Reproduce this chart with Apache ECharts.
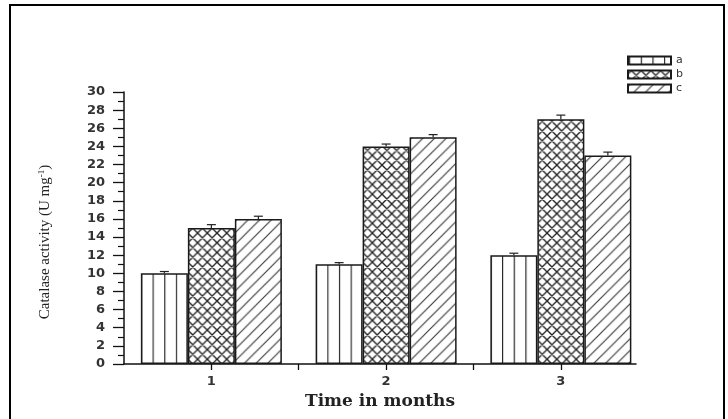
<!DOCTYPE html>
<html>
<head>
<meta charset="utf-8">
<script src="https://cdn.jsdelivr.net/npm/echarts@6/dist/echarts.min.js"></script>
<style>html,body{margin:0;padding:0;background:#fff;}#c{width:728px;height:419px;}</style>
</head>
<body>
<div id="c"></div>
<script>
// ---- data ----
const months = [1, 2, 3];
const monthLabels = ['1', '2', '3'];
const seriesNames = ['a', 'b', 'c'];
const valuesA = [10, 11, 12];
const valuesB = [15, 24, 27];
const valuesC = [16, 25, 23];
const errorsA = [0.2, 0.18, 0.22];
const errorsB = [0.37, 0.26, 0.45];
const errorsC = [0.3, 0.3, 0.37];
const yMin = 0, yMax = 30, yStep = 2;
const xMin = 0.5, xMax = 3.43;
const xTickValues = [1, 1.5, 2, 2.5, 3];

const BAR_W = 47;
const LINE = '#1a1a1a';

function makeTile(w, h, draw) {
  const c = document.createElement('canvas');
  c.width = w; c.height = h;
  const ctx = c.getContext('2d');
  ctx.fillStyle = '#fff';
  ctx.fillRect(0, 0, w, h);
  ctx.strokeStyle = '#222';
  ctx.lineWidth = 1.3;
  draw(ctx, w, h);
  return c;
}
const tileA = makeTile(12, 4, (ctx, w, h) => {
  ctx.fillStyle = '#2a2a2a'; ctx.fillRect(0, 0, 1.2, h);
});
const tileB = makeTile(10, 10, (ctx, w, h) => {
  ctx.lineWidth = 1.4;
  ctx.beginPath();
  for (let k = -1; k <= 1; k++) {
    ctx.moveTo(-2 + k * w, -2); ctx.lineTo(w + 2 + k * w, h + 2);
    ctx.moveTo(-2 + k * w, h + 2); ctx.lineTo(w + 2 + k * w, -2);
  }
  ctx.stroke();
});
const tileC = makeTile(12, 12, (ctx, w, h) => {
  ctx.strokeStyle = '#333';
  ctx.lineWidth = 1.1;
  ctx.beginPath();
  for (let k = -1; k <= 1; k++) {
    ctx.moveTo(-2 + k * w, h + 2); ctx.lineTo(w + 2 + k * w, -2);
  }
  ctx.stroke();
});

const chart = echarts.init(document.getElementById('c'), null, { renderer: 'canvas' });

function errSeries(name, vals, errs, offset) {
  return {
    type: 'custom',
    name: name + '_err',
    z: 10,
    data: months.map((m, i) => [m, vals[i], errs[i]]),
    encode: { x: 0, y: 1 },
    renderItem: function (params, api) {
      const x = api.value(0), v = api.value(1), e = api.value(2);
      const p0 = api.coord([x, v]);
      const p1 = api.coord([x, v + e]);
      const cx = p0[0] + offset;
      const st = { stroke: '#222', lineWidth: 1.2 };
      return {
        type: 'group',
        children: [
          { type: 'line', shape: { x1: cx, y1: p0[1], x2: cx, y2: p1[1] }, style: st },
          { type: 'line', shape: { x1: cx - 4.5, y1: p1[1], x2: cx + 4.5, y2: p1[1] }, style: st }
        ]
      };
    }
  };
}

function barSeries(name, vals, fill) {
  return {
    type: 'bar',
    name: name,
    barWidth: BAR_W,
    barGap: '0%',
    data: months.map((m, i) => [m, vals[i]]),
    itemStyle: { color: fill, borderColor: LINE, borderWidth: 1.5 },
    emphasis: { disabled: true }
  };
}

function buildOption(fA, fB, fC) {
  return {
    animation: false,
    backgroundColor: '#fff',
    graphic: [{
      type: 'rect', silent: true,
      shape: { x: 10, y: 5, width: 714, height: 430 },
      style: { fill: 'none', stroke: '#000', lineWidth: 2 }
    }],
    grid: { left: 124, right: 92, top: 92, bottom: 55, containLabel: false },
    legend: {
      data: seriesNames,
      orient: 'vertical',
      left: 622, top: 50,
      padding: 5,
      icon: 'rect',
      itemWidth: 43, itemHeight: 8, itemGap: 3,
      textStyle: { fontFamily: 'DejaVu Sans', fontSize: 11, color: '#333', lineHeight: 10 },
      selectedMode: false
    },
    xAxis: {
      type: 'value',
      min: xMin, max: xMax,
      name: 'Time in months',
      nameLocation: 'middle',
      nameGap: 29,
      nameTextStyle: { fontFamily: 'DejaVu Serif', fontWeight: 'bold', fontSize: 17, color: '#222' },
      axisLine: { show: true, onZero: false, lineStyle: { color: '#111', width: 1.5 } },
      axisTick: { show: true, length: 6, customValues: xTickValues, lineStyle: { color: '#111', width: 1.3 } },
      axisLabel: {
        customValues: months,
        margin: 11,
        fontFamily: 'DejaVu Sans', fontWeight: 'bold', fontSize: 13, color: '#333',
        formatter: function (v) { const i = months.indexOf(v); return i >= 0 ? monthLabels[i] : ''; }
      },
      splitLine: { show: false }
    },
    yAxis: {
      type: 'value',
      min: yMin, max: yMax, interval: yStep,
      name: 'Catalase activity (U mg{sup|-1})',
      nameLocation: 'middle',
      nameRotate: 90,
      nameGap: 70,
      nameTextStyle: {
        fontFamily: 'Liberation Serif', fontSize: 15, color: '#222',
        padding: [0, 28, 0, 0],
        rich: { sup: { fontFamily: 'Liberation Serif', fontSize: 9, color: '#222', verticalAlign: 'top', padding: [0, 0, 8, 0] } }
      },
      axisLine: { show: true, onZero: false, lineStyle: { color: '#111', width: 1.5 } },
      axisTick: { show: true, length: 11, lineStyle: { color: '#111', width: 1.3 } },
      minorTick: { show: true, splitNumber: 2, length: 6, lineStyle: { color: '#111', width: 1.2 } },
      axisLabel: { margin: 19, fontFamily: 'DejaVu Sans', fontWeight: 'bold', fontSize: 13, color: '#333' },
      splitLine: { show: false },
      minorSplitLine: { show: false }
    },
    series: [
      barSeries('a', valuesA, fA),
      barSeries('b', valuesB, fB),
      barSeries('c', valuesC, fC),
      errSeries('a', valuesA, errorsA, -BAR_W),
      errSeries('b', valuesB, errorsB, 0),
      errSeries('c', valuesC, errorsC, BAR_W)
    ]
  };
}

chart.setOption(buildOption('#fff', '#fff', '#fff'));
// align hatch patterns to the bars using the axis scale
const px1 = chart.convertToPixel({ xAxisIndex: 0 }, months[0]);
const px2 = chart.convertToPixel({ xAxisIndex: 0 }, months[1]);
const groupStep = px2 - px1;
const leftA = px1 - 1.5 * BAR_W;
const periodA = groupStep / 15;
const periodB = groupStep / 18;
const periodC = groupStep / 15;
const patA = { image: tileA, repeat: 'repeat', x: leftA, y: 0, scaleX: periodA / 12, scaleY: 1 };
const patB = { image: tileB, repeat: 'repeat', x: leftA + BAR_W, y: 0, scaleX: periodB / 10, scaleY: periodB / 10 };
const patC = { image: tileC, repeat: 'repeat', x: leftA + 2 * BAR_W, y: 0, scaleX: periodC / 12, scaleY: periodC / 12 };
chart.setOption(buildOption(patA, patB, patC), true);
</script>
</body>
</html>
